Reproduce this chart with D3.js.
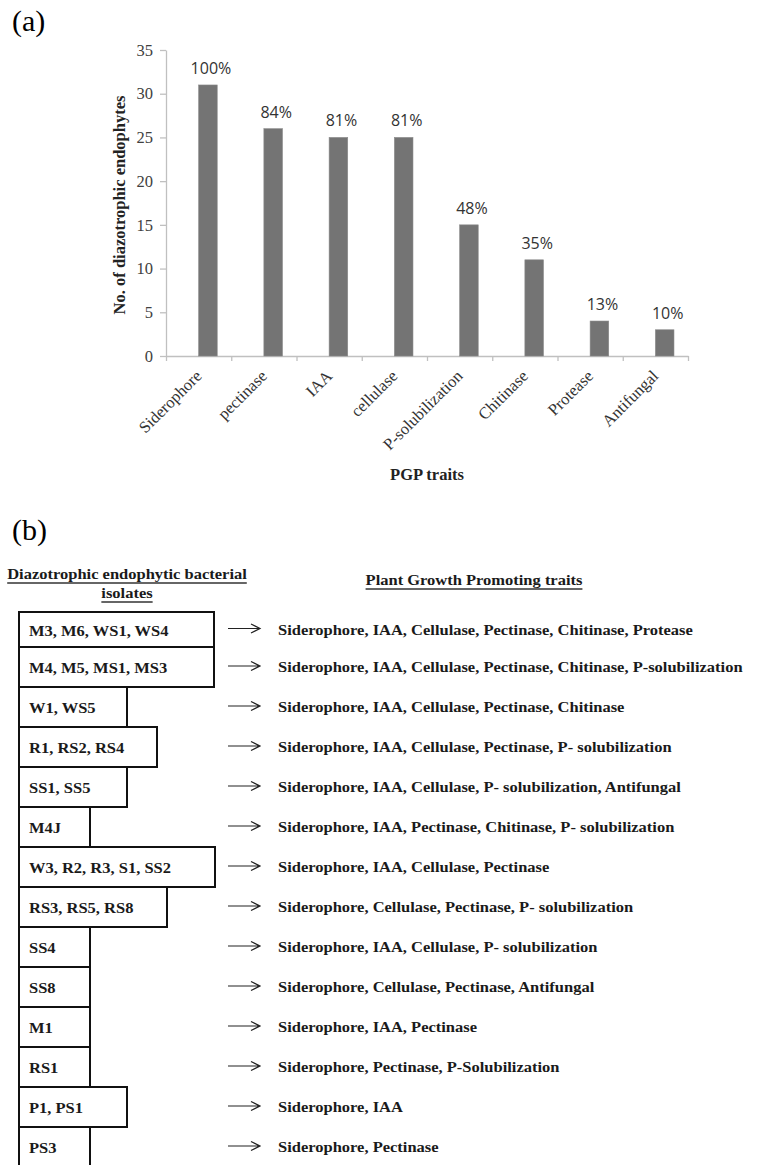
<!DOCTYPE html>
<html>
<head>
<meta charset="utf-8">
<script src="https://cdn.jsdelivr.net/npm/d3@7"></script>
<style>
  body { margin: 0; background: #fff; }
  svg { display: block; font-family: "Liberation Serif", "Times New Roman", serif; }
</style>
</head>
<body>
<svg id="fig" width="765" height="1165"></svg>
<script>
// panel (a) data
var traits = ["Siderophore", "pectinase", "IAA", "cellulase", "P-solubilization", "Chitinase", "Protease", "Antifungal"];
var counts = [31, 26, 25, 25, 15, 11, 4, 3];
var percents = ["100%", "84%", "81%", "81%", "48%", "35%", "13%", "10%"];
var yTicks = [0, 5, 10, 15, 20, 25, 30, 35];

// panel (b) data
var isolates = ["M3, M6, WS1, WS4", "M4, M5, MS1, MS3", "W1, WS5", "R1, RS2, RS4", "SS1, SS5", "M4J",
  "W3, R2, R3, S1, SS2", "RS3, RS5, RS8", "SS4", "SS8", "M1", "RS1", "P1, PS1", "PS3"];
var isolateTraits = [
  "Siderophore, IAA, Cellulase, Pectinase, Chitinase, Protease",
  "Siderophore, IAA, Cellulase, Pectinase, Chitinase, P-solubilization",
  "Siderophore, IAA, Cellulase, Pectinase, Chitinase",
  "Siderophore, IAA, Cellulase, Pectinase, P- solubilization",
  "Siderophore, IAA, Cellulase, P- solubilization, Antifungal",
  "Siderophore, IAA, Pectinase, Chitinase, P- solubilization",
  "Siderophore, IAA, Cellulase, Pectinase",
  "Siderophore, Cellulase, Pectinase, P- solubilization",
  "Siderophore, IAA, Cellulase, P- solubilization",
  "Siderophore, Cellulase, Pectinase, Antifungal",
  "Siderophore, IAA, Pectinase",
  "Siderophore, Pectinase, P-Solubilization",
  "Siderophore, IAA",
  "Siderophore, Pectinase"
];

// layout only: width of each isolate box
var boxWidths = [195, 195, 108, 138, 108, 71, 196, 148, 71, 71, 71, 71, 108, 71];

var svg = d3.select("#fig");
svg.append("rect").attr("width", 765).attr("height", 1165).attr("fill", "#fff");

// ---------- (a) ----------
var ga = svg.append("g");
ga.append("text").attr("x", 12).attr("y", 31).attr("font-size", 30).text("(a)");

var x = d3.scaleBand().domain(traits).range([166, 688]);
var y = d3.scaleLinear().domain([0, 35]).range([356, 50]);
var bw = x.bandwidth();

var yAxis = ga.append("g").attr("transform", "translate(166,0)")
  .call(d3.axisLeft(y).tickValues(yTicks).tickSize(6).tickSizeOuter(0).tickPadding(7));
yAxis.selectAll("text").attr("font-size", 16.5).attr("fill", "#404040")
  .attr("font-family", "Liberation Serif, serif");

var xb = d3.scaleLinear().domain([0, traits.length]).range([166, 688]);
var xAxis = ga.append("g").attr("transform", "translate(0,356)")
  .call(d3.axisBottom(xb).ticks(traits.length).tickSize(5).tickSizeOuter(0).tickFormat(""));

[yAxis, xAxis].forEach(function(a) {
  a.selectAll("path, line").attr("stroke", "#c0c0c0").attr("stroke-width", 1.3);
});

ga.selectAll("rect.bar").data(traits).enter().append("rect")
  .attr("class", "bar")
  .attr("x", function(d) { return x(d) + bw * 0.5; })
  .attr("width", bw * 0.285)
  .attr("y", function(d, i) { return y(counts[i]); })
  .attr("height", function(d, i) { return y(0) - y(counts[i]); })
  .attr("fill", "#747474")
  .attr("stroke", "#8a8a8a").attr("stroke-width", 0.6);

ga.selectAll("text.pct").data(traits).enter().append("text")
  .attr("class", "pct")
  .attr("x", function(d) { return x(d) + bw * 0.6425 + 3; })
  .attr("y", function(d, i) { return y(counts[i]) - 11; })
  .attr("text-anchor", "middle")
  .attr("font-family", "Open Sans, sans-serif")
  .attr("font-size", 16)
  .attr("fill", "#333")
  .text(function(d, i) { return percents[i]; });

ga.selectAll("text.cat").data(traits).enter().append("text")
  .attr("class", "cat")
  .attr("transform", function(d) { return "translate(" + (x(d) + bw / 2 + 4) + ",377) rotate(-45)"; })
  .attr("text-anchor", "end")
  .attr("font-size", 16.5)
  .attr("fill", "#333")
  .text(function(d) { return d; });

ga.append("text")
  .attr("transform", "translate(125," + ((y(0) + y(35)) / 2 + 2) + ") rotate(-90)")
  .attr("text-anchor", "middle")
  .attr("font-weight", "bold").attr("font-size", 16.5).attr("fill", "#222")
  .text("No. of diazotrophic endophytes");

ga.append("text")
  .attr("x", (166 + 688) / 2).attr("y", 480)
  .attr("text-anchor", "middle")
  .attr("font-weight", "bold").attr("font-size", 16.5).attr("fill", "#222")
  .text("PGP traits");

// ---------- (b) ----------
var gb = svg.append("g");
gb.append("text").attr("x", 12).attr("y", 540).attr("font-size", 30).text("(b)");

var sx = 1.1; // the original lettering is stretched sideways
function wideText(g, tx, ty, str, anchor) {
  return g.append("text")
    .attr("transform", "translate(" + tx + "," + ty + ") scale(" + sx + ",1)")
    .attr("text-anchor", anchor || "start")
    .attr("font-weight", "bold").attr("font-size", 15).attr("fill", "#1a1a1a")
    .text(str);
}
function underline(t, cx, ty) {
  var w = t.node().getComputedTextLength() * sx;
  gb.append("line").attr("x1", cx - w / 2).attr("x2", cx + w / 2)
    .attr("y1", ty + 4).attr("y2", ty + 4)
    .attr("stroke", "#333").attr("stroke-width", 1.3);
}
[["Diazotrophic endophytic bacterial", 127, 579], ["isolates", 127, 598],
 ["Plant Growth Promoting traits", 474, 585]].forEach(function(h) {
  underline(wideText(gb, h[1], h[2], h[0], "middle"), h[1], h[2]);
});

var row = d3.scaleBand().domain(d3.range(isolates.length)).range([607, 1167]);
var firstInset = 5;
function rowTop(i) { return row(i) + (i === 0 ? firstInset : 0); }
function rowMid(i) { return (rowTop(i) + row(i) + row.bandwidth()) / 2; }

gb.selectAll("rect.box").data(isolates).enter().append("rect")
  .attr("class", "box")
  .attr("x", 19)
  .attr("y", function(d, i) { return rowTop(i); })
  .attr("width", function(d, i) { return boxWidths[i]; })
  .attr("height", function(d, i) { return row(i) + row.bandwidth() - rowTop(i); })
  .attr("fill", "none").attr("stroke", "#111").attr("stroke-width", 2);

isolates.forEach(function(d, i) {
  wideText(gb, 29, rowMid(i) + 6, d);
  var ty = rowMid(i) + 5;
  wideText(gb, 278, ty, isolateTraits[i]);
  var ay = ty - 6;
  gb.append("path")
    .attr("d", "M228," + ay + "H260M251," + (ay - 4.5) + "L260," + ay + "L251," + (ay + 4.5))
    .attr("fill", "none").attr("stroke", "#222").attr("stroke-width", 1.2);
});
</script>
</body>
</html>
